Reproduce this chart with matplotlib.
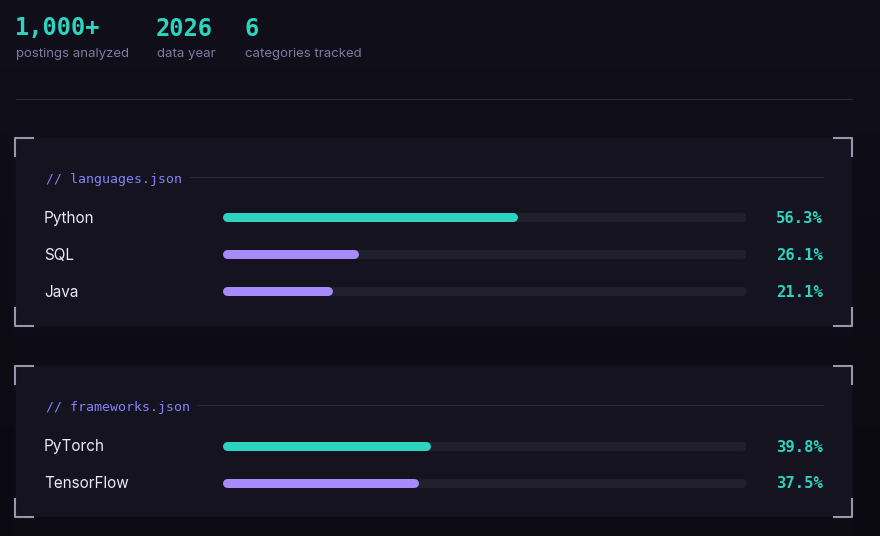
import matplotlib
matplotlib.use("Agg")
import matplotlib.pyplot as plt
import matplotlib.transforms as mtransforms
import numpy as np

# headline stats
stat_values = ["1,000+", "2026", "6"]
stat_labels = ["postings analyzed", "data year", "categories tracked"]

# cards
card_titles = ["// languages.json", "// frameworks.json"]
lang_names = ["Python", "SQL", "Java"]
lang_pct = [56.3, 26.1, 21.1]
fw_names = ["PyTorch", "TensorFlow"]
fw_pct = [39.8, 37.5]

BG = "#0f0e19"
CARD = "#14131f"
TRACK = "#201f2c"
TEAL = "#2dd4bf"
PURPLE = "#a78bfa"
HEAD = "#8a7ffb"
MUTED = "#7e7b9f"
TEXT = "#ece9f5"
BRACKET = "#9896a8"
RULE = "#2a2840"

W, H = 880, 536
fig = plt.figure(figsize=(W / 100, H / 100), dpi=100)
fig.patch.set_facecolor(BG)
ax = fig.add_axes([0, 0, 1, 1])
ax.set_xlim(0, W)
ax.set_ylim(H, 0)
ax.axis("off")

# slight darker edges outside the content column
grad = np.linspace(0, 1, 200)
ax.imshow(np.tile(grad, (2, 1)).T, extent=[0, W, H, 0], aspect="auto",
          cmap=matplotlib.colors.LinearSegmentedColormap.from_list("bg", ["#100f1a", "#0b0a12"]),
          zorder=0)
ax.add_patch(plt.Rectangle((14, 0), 840, H, color="#0f0e19", alpha=0.5, lw=0, zorder=0.5))

mono = "DejaVu Sans Mono"
sans = "Inter"

# stats row
stat_x = [16, 157, 245]
for x, v, lab in zip(stat_x, stat_values, stat_labels):
    ax.text(x - 1, 28.5, v, color=TEAL, fontsize=17, fontweight="bold", family=mono,
            va="center", ha="left", zorder=3)
    ax.text(x, 54, lab, color=MUTED, fontsize=9.5, family=sans, va="center", ha="left", zorder=3)

ax.plot([16, 852], [98.5, 98.5], color=RULE, lw=0.8, zorder=2)


def bracket(x0, y0, x1, y1):
    k = dict(color=BRACKET, lw=1.5, solid_capstyle="butt", zorder=4)
    L = 19
    ax.plot([x0, x0, x0 + L], [y0 + L, y0, y0], **k)
    ax.plot([x1 - L, x1, x1], [y0, y0, y0 + L], **k)
    ax.plot([x0, x0, x0 + L], [y1 - L, y1, y1], **k)
    ax.plot([x1 - L, x1, x1], [y1, y1, y1 - L], **k)


def card(top, bottom, title, title_end, names, pct, row0, step):
    ax.add_patch(plt.Rectangle((16, top), 836, bottom - top, color=CARD, lw=0, zorder=1))
    bracket(15, top, 852, bottom)
    hy = top + 40
    ax.text(46, hy + 1, title, color=HEAD, fontsize=9.5, family=mono, va="center", ha="left",
            zorder=3)
    ax.plot([title_end, 823], [hy - 1, hy - 1], color=RULE, lw=0.8, zorder=2)

    n = len(names)
    y_top = row0 - step / 2
    y_bot = row0 + step * (n - 0.5)
    bx = fig.add_axes([222 / W, 1 - y_bot / H, 524 / W, (y_bot - y_top) / H])
    bx.set_xlim(0, 100)
    bx.set_ylim(n - 0.5, -0.5)
    bx.axis("off")
    bx.patch.set_alpha(0)
    cap = 4.5 / 524 * 100
    lw = 9 * 72 / 100
    tr = mtransforms.blended_transform_factory(ax.transData, bx.transData)
    shift = mtransforms.ScaledTranslation(0, -1.5 / 100, fig.dpi_scale_trans)
    for i, (name, p) in enumerate(zip(names, pct)):
        bx.plot([cap, 100 - cap], [i, i], color=TRACK, lw=lw, solid_capstyle="round")
        bx.plot([cap, p - cap], [i, i], color=TEAL if i == 0 else PURPLE, lw=lw,
                solid_capstyle="round")
        ax.text(44, i, name, transform=tr + shift, color=TEXT, fontsize=11, family=sans,
                va="center", ha="left", zorder=3)
        ax.text(823, i, f"{p:.1f}%", transform=tr + shift, color=TEAL, fontsize=11.2,
                family=mono, fontweight="bold", va="center", ha="right", zorder=3)


card(138, 326, card_titles[0], 189, lang_names, lang_pct, 217.5, 37)
card(366, 517, card_titles[1], 197, fw_names, fw_pct, 445.5, 37)

fig.savefig("out.png", dpi=100, facecolor=fig.get_facecolor())
